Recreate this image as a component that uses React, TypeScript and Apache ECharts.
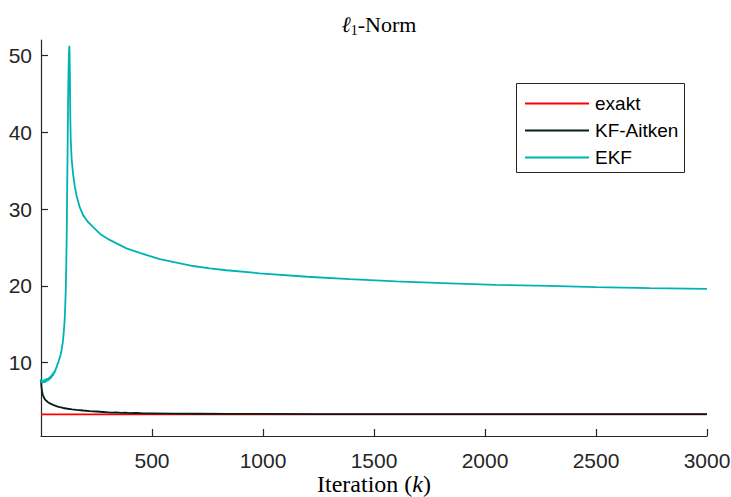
import React, { useEffect, useRef } from "react";
import * as echarts from "echarts";

// ---- data ----
const xTicks = [500, 1000, 1500, 2000, 2500, 3000];
const yTicks = [10, 20, 30, 40, 50];

const exaktK = [0, 3000];
const exaktV = [3.28, 3.28];

const kfK = [0, 2, 4, 6, 9, 12, 15, 20, 25, 32, 40, 50, 60, 72, 84, 100, 120, 140, 160, 190, 220, 250, 280, 300, 320, 340, 360, 380, 400, 430, 460, 500, 600, 700, 850, 1000, 1250, 1500, 2000, 2500, 3000];
const kfV = [7.8, 6.9, 6.4, 6.05, 5.75, 5.55, 5.35, 5.15, 5.0, 4.85, 4.7, 4.57, 4.45, 4.32, 4.22, 4.1, 4.0, 3.92, 3.85, 3.77, 3.7, 3.64, 3.58, 3.54, 3.49, 3.53, 3.46, 3.5, 3.43, 3.46, 3.41, 3.4, 3.37, 3.35, 3.33, 3.32, 3.31, 3.31, 3.3, 3.3, 3.3];

const ekfK = [0, 2, 4, 6, 8, 10, 12, 14, 16, 18, 20, 22, 24, 26, 28, 30, 32, 34, 36, 38, 40, 42, 44, 46, 48, 50, 52, 54, 56, 58, 60, 62, 64, 66, 68, 70, 72, 74, 76, 78, 80, 82, 84, 86, 88, 90, 92, 94, 96, 98, 100, 102, 104, 106, 108, 110, 112, 114, 116, 118, 120, 122, 124, 126, 128, 130, 132, 134, 138, 144, 152, 160, 174, 190, 210, 234, 270, 309, 385, 445, 535, 600, 685, 760, 835, 985, 1200, 1390, 1600, 1841, 2050, 2291, 2500, 2742, 3000];
const ekfV = [7.8, 7.4, 7.6, 7.3, 7.7, 7.4, 7.8, 7.5, 7.6, 7.4, 7.9, 7.5, 7.7, 7.6, 8.0, 7.6, 7.9, 7.7, 8.1, 7.8, 8.2, 7.9, 8.3, 8.0, 8.4, 8.2, 8.6, 8.3, 8.7, 8.5, 8.9, 8.7, 9.1, 9.0, 9.4, 9.3, 9.6, 9.6, 10.0, 9.9, 10.3, 10.3, 10.6, 10.8, 11.0, 11.3, 11.5, 11.9, 12.3, 12.6, 13.2, 13.8, 14.5, 15.3, 16.5, 18.0, 20.0, 23.0, 27.0, 33.0, 38.0, 44.0, 48.0, 50.5, 51.3, 48.0, 42.0, 39.0, 36.6, 34.7, 33.0, 31.8, 30.3, 29.2, 28.4, 27.7, 26.7, 26.0, 24.9, 24.3, 23.5, 23.1, 22.6, 22.3, 22.05, 21.65, 21.2, 20.9, 20.6, 20.35, 20.15, 20.0, 19.85, 19.72, 19.62];

const seriesNames = ["exakt", "KF-Aitken", "EKF"];
const seriesColors = ["#ff0000", "#021e1e", "#00b3b3"];

const pairs = (k: number[], v: number[]) => k.map((x, i) => [x, v[i]]);

export default function App() {
  const ref = useRef<HTMLDivElement>(null);

  useEffect(() => {
    if (!ref.current) return;
    const chart = echarts.init(ref.current, null, { renderer: "svg" });
    const axisColor = "#262626";
    const sans = "'Liberation Sans', Arial, sans-serif";
    const serif = "'Liberation Serif', 'Times New Roman', serif";
    const datas = [pairs(exaktK, exaktV), pairs(kfK, kfV), pairs(ekfK, ekfV)];

    chart.setOption({
      animation: false,
      backgroundColor: "#ffffff",
      grid: { left: 41, right: 24, top: 40, bottom: 61, containLabel: false, outerBoundsMode: "none" },
      xAxis: {
        type: "value",
        min: 0,
        max: 3000,
        axisLine: { show: true, lineStyle: { color: axisColor, width: 1.2 } },
        axisTick: { show: true, inside: true, length: 7, customValues: xTicks, lineStyle: { color: axisColor, width: 1.2 } },
        axisLabel: {
          customValues: xTicks,
          color: axisColor,
          fontSize: 21,
          fontFamily: sans,
          margin: 14,
          formatter: (v: number) => String(v),
        },
        splitLine: { show: false },
      },
      yAxis: {
        type: "value",
        min: 0.45,
        max: 52.05,
        axisLine: { show: true, lineStyle: { color: axisColor, width: 1.2 } },
        axisTick: { show: true, inside: true, length: 7, customValues: yTicks, lineStyle: { color: axisColor, width: 1.2 } },
        axisLabel: {
          customValues: yTicks,
          color: axisColor,
          fontSize: 21,
          fontFamily: sans,
          margin: 9,
          formatter: (v: number) => String(v),
        },
        splitLine: { show: false },
      },
      legend: {
        orient: "vertical",
        left: 525,
        top: 94,
        padding: 0,
        itemGap: 8,
        itemWidth: 64,
        itemHeight: 2,
        icon: "rect",
        textStyle: { fontSize: 19, fontFamily: sans, color: "#000", lineHeight: 19, padding: [0, 0, 0, 1] },
        data: seriesNames,
      },
      graphic: [
        {
          type: "rect",
          z: 1,
          shape: { x: 516.5, y: 83.5, width: 168, height: 89 },
          style: { fill: "#ffffff", stroke: axisColor, lineWidth: 1 },
        },
        {
          type: "text",
          x: 379,
          y: 24,
          style: {
            text: "{a|ℓ}{b|1}{c|-Norm}",
            align: "center",
            verticalAlign: "middle",
            rich: {
              a: { fontFamily: serif, fontStyle: "italic", fontSize: 22, lineHeight: 26, fill: "#000" },
              b: { fontFamily: serif, fontSize: 14, lineHeight: 17, verticalAlign: "bottom", fill: "#000" },
              c: { fontFamily: serif, fontSize: 22, lineHeight: 26, fill: "#000" },
            },
          },
        },
        {
          type: "text",
          x: 374,
          y: 484,
          style: {
            text: "{a|Iteration (}{b|k}{a|)}",
            align: "center",
            verticalAlign: "middle",
            rich: {
              a: { fontFamily: serif, fontSize: 24, lineHeight: 24, fill: "#000" },
              b: { fontFamily: serif, fontSize: 24, lineHeight: 24, fontStyle: "italic", fill: "#000" },
            },
          },
        },
      ],
      series: seriesNames.map((name, i) => ({
        name,
        type: "line",
        data: datas[i],
        showSymbol: false,
        symbol: "none",
        smooth: false,
        z: 2 + i,
        lineStyle: { color: seriesColors[i], width: 1.8 },
        itemStyle: { color: seriesColors[i] },
      })),
    });

    return () => chart.dispose();
  }, []);

  return (
    <div
      ref={ref}
      style={{ position: "fixed", left: 0, top: 0, width: 731, height: 497 }}
    />
  );
}
